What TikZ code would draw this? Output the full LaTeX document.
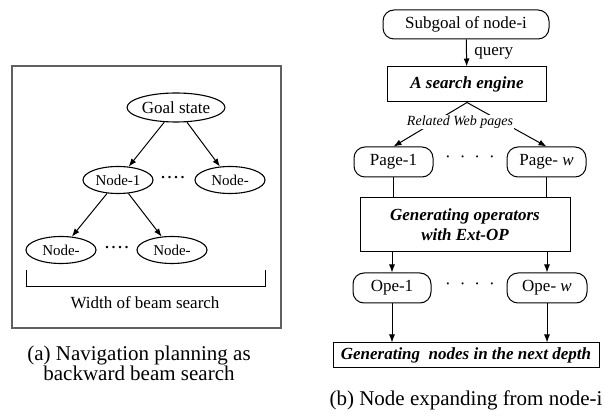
\documentclass[tikz,border=0pt]{standalone}
\usepackage{fontspec}
\setmainfont{Liberation Serif}
\usetikzlibrary{shapes.geometric,arrows.meta}

\tikzset{
  oval/.style={ellipse, draw, line width=1.1pt, inner sep=0pt,
    minimum width=70pt, minimum height=27pt, font=\fontsize{15}{17}\selectfont},
  pill/.style={rectangle, draw, line width=1pt, rounded corners=11pt, inner sep=0pt,
    minimum height=30pt, font=\fontsize{17}{20}\selectfont},
  procbox/.style={rectangle, draw, line width=1pt, inner sep=0pt, align=center,
    font=\fontsize{17}{20}\selectfont\bfseries\itshape},
  arr/.style={-{Latex[length=8pt,width=6pt]}, line width=1pt},
  plain/.style={font=\fontsize{17}{20}\selectfont},
}

\begin{document}
\begin{tikzpicture}[x=1pt,y=-1pt]
  \useasboundingbox (0,0) rectangle (605,419);

  % (a) backward beam search
  \draw[gray!75!black, line width=1.5pt] (12,66) rectangle (281,328);
  \node[oval, minimum width=98pt, minimum height=29pt, font=\fontsize{17}{20}\selectfont]
    (goal) at (176,107.5) {Goal state};
  \node[oval] (nodeA) at (118,180) {Node-1};
  \node[oval] (nodeB) at (230,180) {Node-};
  \node[oval] (leafA) at (61,250) {Node-};
  \node[oval] (leafB) at (172,250) {Node-};
  \node[font=\fontsize{15}{17}\selectfont\bfseries] (dotsA) at (173,179)
    {·\kern1.5pt·\kern1.5pt·\kern1.5pt·};
  \node[font=\fontsize{15}{17}\selectfont\bfseries] (dotsB) at (117,249)
    {·\kern1.5pt·\kern1.5pt·\kern1.5pt·};
  \draw[arr] (goal) -- (nodeA);
  \draw[arr] (goal) -- (nodeB);
  \draw[arr] (nodeA) -- (leafA);
  \draw[arr] (nodeA) -- (leafB);

  \coordinate (brL) at (26,270);
  \coordinate (brR) at (265,270);
  \draw[line width=1pt] (brL) -- ++(0,17) -| (brR);
  \node[plain] (beam) at (145,303) {Width of beam search};

  \node[align=center, font=\fontsize{21}{20}\selectfont] (capA) at (139,363)
    {(a) Navigation planning as\\ backward beam search};

  % (b) node expanding
  \node[pill, minimum width=166pt, minimum height=29pt] (subgoal) at (466,24.5) {Subgoal of node-i};
  \node[procbox, minimum width=159pt, minimum height=35pt] (engine) at (467,84.5) {A search engine};
  \node[pill, minimum width=79pt] (pageA) at (393.5,162) {Page-1};
  \node[pill, minimum width=79pt] (pageW) at (546.5,162) {Page- \textit{w}};
  \node[plain] (dotsC) at (470,159) {·\kern9pt·\kern9pt·\kern9pt·};
  \node[procbox, minimum width=210pt, minimum height=54pt] (gen) at (465,225)
    {Generating operators\\ with Ext-OP};
  \node[pill, minimum width=78pt] (opeA) at (392,288) {Ope-1};
  \node[pill, minimum width=80pt] (opeW) at (547,288) {Ope- \textit{w}};
  \node[plain] (dotsD) at (470,286) {·\kern9pt·\kern9pt·\kern9pt·};
  \node[procbox, minimum width=266pt, minimum height=25pt] (next) at (466,355.5)
    {Generating\ \ nodes in the next depth};

  \draw[arr] (subgoal) -- node[right, xshift=4pt, plain] {query} (engine);
  \draw[arr] (engine.south) -- (pageA.north);
  \draw[arr] (engine.south) -- (pageW.north);
  \node[fill=white, inner sep=1pt, font=\fontsize{14}{16}\selectfont\itshape]
    (related) at (460,122) {Related Web pages};
  \draw[line width=1pt] (pageA) -- (pageA |- gen.north);
  \draw[line width=1pt] (pageW) -- (pageW |- gen.north);
  \draw[arr] (opeA |- gen.south) -- (opeA);
  \draw[arr] (opeW |- gen.south) -- (opeW);
  \draw[arr] (opeA) -- (opeA |- next.north);
  \draw[arr] (opeW) -- (opeW |- next.north);

  \node[font=\fontsize{21}{24}\selectfont] (capB) at (466,400) {(b) Node expanding from node-i};
\end{tikzpicture}
\end{document}
